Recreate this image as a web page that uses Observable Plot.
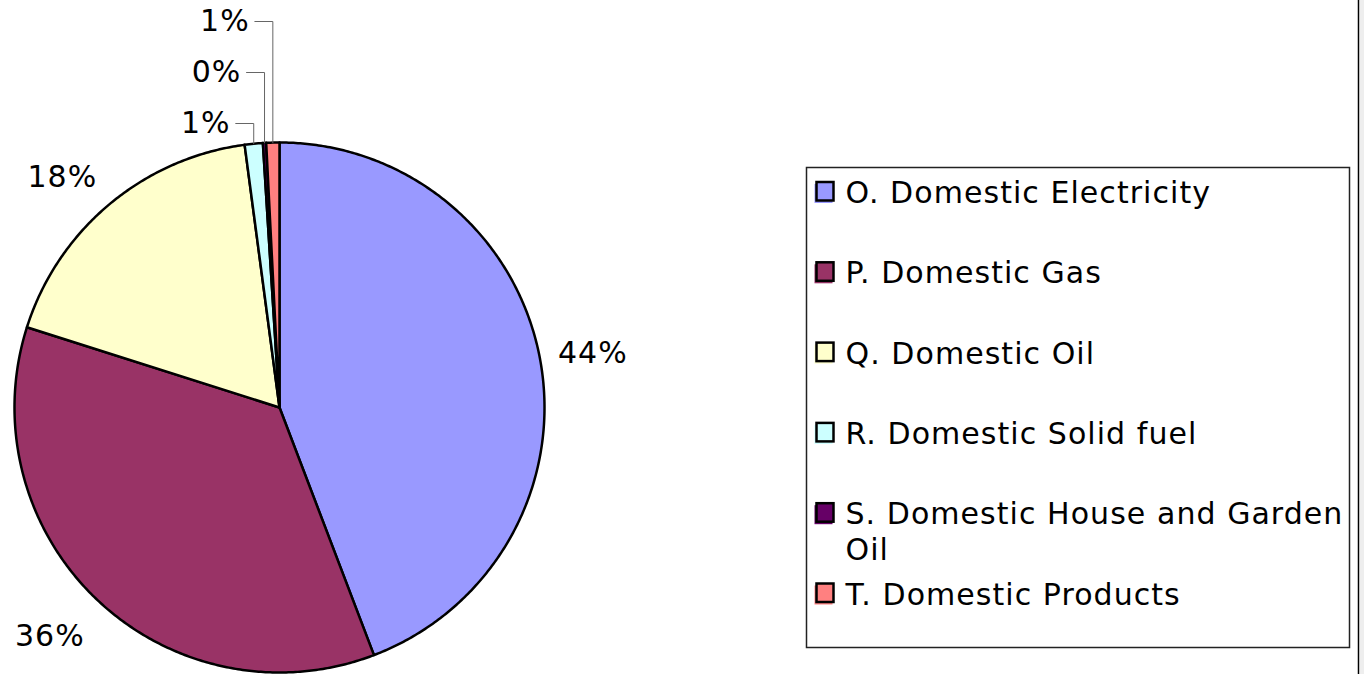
<!DOCTYPE html>
<html><head><meta charset="utf-8">
<script src="https://cdn.jsdelivr.net/npm/d3@7"></script>
<script src="https://cdn.jsdelivr.net/npm/@observablehq/plot@0.6"></script>
<style>
html,body{margin:0;padding:0;background:#fff;}
#chart svg{display:block;}
#chart text{letter-spacing:1.05px;}
</style></head><body><div id="chart"></div>
<script>
// ---- data ----
const categories = [
  "O. Domestic Electricity",
  "P. Domestic Gas",
  "Q. Domestic Oil",
  "R. Domestic Solid fuel",
  "S. Domestic House and Garden Oil",
  "T. Domestic Products"
];
const shares = [44.2, 35.7, 18.0, 1.1, 0.2, 0.8];
const colors = ["#9999FF", "#993366", "#FFFFCC", "#CCFFFF", "#660066", "#FF8080"];

// ---- layout ----
const W = 1364, H = 674;
const cx = 279, cy = 407, R = 265;
const FONT = "DejaVu Sans, Verdana, sans-serif", FS = 30;
const legend = {x1: 806.5, x2: 1349.5, y1: 167.5, y2: 647.5, row0: 192, step: 80.3};

const pct = shares.map(s => Math.round(s) + "%");
const wrap = (name, max = 28) => {
  const lines = []; let cur = "";
  for (const w of name.split(" ")) {
    if (cur && (cur + " " + w).length > max) { lines.push(cur); cur = w; }
    else cur = cur ? cur + " " + w : w;
  }
  lines.push(cur); return lines.join("\n");
};

const arcs = d3.pie().sort(null).value(d => d)(shares);
const px = (a, r) => cx + r * Math.sin(a);
const py = (a, r) => cy - r * Math.cos(a);

// slice polygons
const slicePts = arcs.map((a, i) => {
  const n = Math.max(2, Math.ceil((a.endAngle - a.startAngle) / (Math.PI / 360)));
  const pts = [{x: cx, y: cy}];
  for (let k = 0; k <= n; k++) {
    const t = a.startAngle + (a.endAngle - a.startAngle) * k / n;
    pts.push({x: px(t, R), y: py(t, R)});
  }
  return pts;
});

// percentage labels
const bigLabels = [], smallLabels = [], leaders = [];
let k = 0;
arcs.forEach((a, i) => {
  const mid = (a.startAngle + a.endAngle) / 2;
  if (shares[i] >= 2) {
    const s = Math.sin(mid), c = Math.cos(mid);
    const hh = c < 0 ? 33 : 18;
    bigLabels.push({text: pct[i], x: px(mid, R + 17) + Math.sign(s) * 36, y: py(mid, R + 17) - c * hh});
  } else {
    const tx = px(mid, R), ty = py(mid, R);
    const ly = cy - R - 19 - 51 * k;
    smallLabels.push({text: pct[i], x: tx - 48, y: ly});
    leaders.push([{x: tx - 18, y: ly}, {x: tx, y: ly}, {x: tx, y: ty}]);
    k++;
  }
});

const rows = categories.map((c, i) => ({name: wrap(c), color: colors[i], yc: legend.row0 + i * legend.step}));

const marks = [
  ...slicePts.map((pts, i) => Plot.line(pts, {x: "x", y: "y", fill: colors[i], stroke: "black", strokeWidth: 2.5, strokeLinejoin: "round", curve: "linear-closed"})),
  ...leaders.map(l => Plot.line(l, {x: "x", y: "y", stroke: "#666", strokeWidth: 1})),
  Plot.text(bigLabels, {x: "x", y: "y", text: "text", fontSize: FS, fontFamily: FONT, fill: "black"}),
  Plot.text(smallLabels, {x: "x", y: "y", text: "text", fontSize: FS, fontFamily: FONT, fill: "black"}),
  // legend
  Plot.rect(rows, {x1: () => 814.5, x2: () => 832.5, y1: d => d.yc - 8, y2: d => d.yc + 11, fill: "color"}),
  Plot.rect(rows, {x1: () => 816.5, x2: () => 833.5, y1: d => d.yc - 10, y2: d => d.yc + 8.5, fill: "color", stroke: "black", strokeWidth: 2.5}),
  Plot.text(rows, {x: () => 845, y: d => d.yc - 15, text: "name", textAnchor: "start", lineAnchor: "top", lineHeight: 1.2, fontSize: FS, fontFamily: FONT, fill: "black"}),
  Plot.rect([legend], {x1: d => d.x2 + 0.5, x2: () => 1357, y1: d => d.y1, y2: d => d.y2, fill: "white"}),
  Plot.rect([legend], {x1: "x1", x2: "x2", y1: "y1", y2: "y2", fill: "none", stroke: "#222", strokeWidth: 1.5}),
  // page edge
  Plot.rect([0], {x1: () => 1360, x2: () => W, y1: () => 0, y2: () => H, fill: "#eeeeee"}),
  Plot.ruleX([1358], {stroke: "black", strokeWidth: 1.5})
];

const chart = Plot.plot({
  width: W, height: H,
  margin: 0,
  x: {type: "linear", domain: [0, W], range: [0, W], axis: null},
  y: {type: "linear", domain: [0, H], range: [0, H], axis: null},
  color: {type: "identity"},
  style: {background: "white"},
  marks
});
document.getElementById("chart").append(chart);
</script></body></html>
